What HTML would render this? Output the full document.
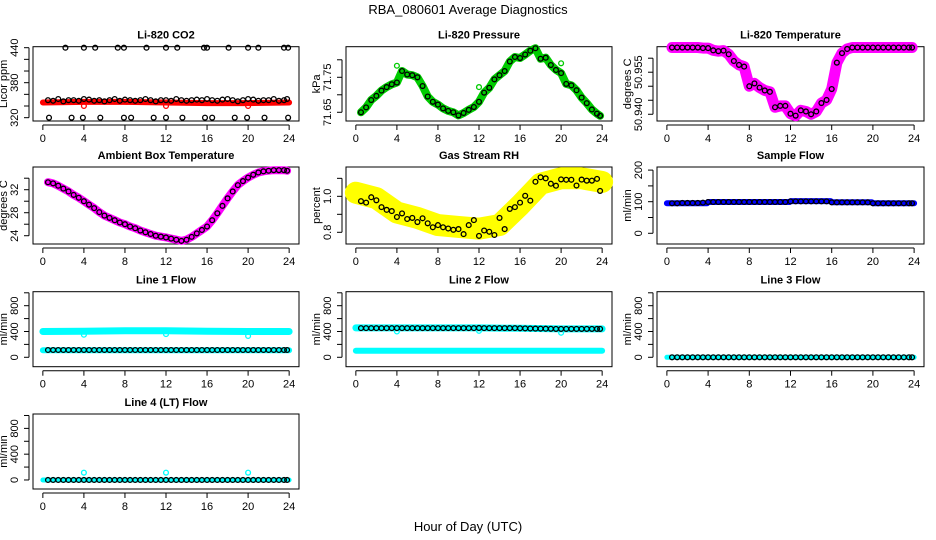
<!DOCTYPE html>
<html><head><meta charset="utf-8">
<style>
html,body{margin:0;padding:0;background:#fff;}
svg{display:block;font-family:"Liberation Sans",Arial,sans-serif;}
</style></head>
<body>
<svg id="c" width="936" height="540" viewBox="0 0 936 540" xmlns="http://www.w3.org/2000/svg">
<rect x="0" y="0" width="936" height="540" fill="#fff"/>
<text x="468" y="14" text-anchor="middle" font-size="13">RBA_080601  Average Diagnostics</text>
<text x="468" y="531" text-anchor="middle" font-size="13">Hour of Day (UTC)</text>
</svg>
<script>
const HOURS=[0.5,1,1.5,2,2.5,3,3.5,4,4.5,5,5.5,6,6.5,7,7.5,8,8.5,9,9.5,10,10.5,11,11.5,12,12.5,13,13.5,14,14.5,15,15.5,16,16.5,17,17.5,18,18.5,19,19.5,20,20.5,21,21.5,22,22.5,23,23.5,23.8];
const X_TICKS=[0,4,8,12,16,20,24];
const BAND_H=[0,4,8,12,16,20,24];
const OUT_H=[4,12,20];

// Li-820 CO2
const CO2_BLACK=[350,349,352,348,350,350,349,352,351,349,350,348,350,352,349,351,350,349,350,352,350,348,350,350,349,352,350,349,350,351,350,352,350,349,351,352,350,348,350,352,351,349,350,350,352,349,350,352];
const CO2_RED=[346,347,347,346,345,345,346];
const CO2_RED_OUT=[340,340,340];
const CO2_HIGH_H=[2.2,4,5.1,7.3,7.9,10.1,12,13.1,15.7,16,18.1,20,21,23.5,23.9];
const CO2_HIGH=[440,440,440,440,440,440,440,440,440,440,440,440,440,440,440];
const CO2_LOW_H=[0.6,2.8,3.9,5.6,7.9,8.6,10.8,12,13.6,15.8,16.5,18.7,19.9,21.6,23.9];
const CO2_LOW=[320,320,320,320,320,320,320,320,320,320,320,320,320,320,320];

// Li-820 Pressure
const PRES_BLACK=[71.650,71.664,71.685,71.697,71.712,71.722,71.730,71.735,71.768,71.758,71.756,71.750,71.725,71.695,71.680,71.672,71.661,71.654,71.650,71.641,71.648,71.657,71.665,71.680,71.706,71.720,71.744,71.756,71.768,71.795,71.808,71.805,71.815,71.826,71.833,71.803,71.806,71.785,71.771,71.762,71.731,71.727,71.713,71.692,71.676,71.658,71.646,71.640];
const PRES_GREEN_OUT=[71.783,71.722,71.790];

// Li-820 Temperature
const LTMP_BLACK=[50.9638,50.9638,50.9638,50.9638,50.9638,50.9638,50.9636,50.9636,50.9628,50.9625,50.9627,50.9614,50.959,50.9576,50.957,50.950,50.951,50.9495,50.9485,50.948,50.9425,50.943,50.943,50.9402,50.9395,50.9414,50.941,50.940,50.941,50.944,50.9451,50.949,50.9584,50.9618,50.9633,50.9638,50.9638,50.9638,50.9638,50.9638,50.9638,50.9638,50.9638,50.9638,50.9638,50.9638,50.9638,50.9638];

// Ambient Box Temperature
const AMB_BLACK=[33.3,33.1,32.7,32.2,31.7,31.1,30.6,30.0,29.4,28.8,28.1,27.5,27.1,26.7,26.3,26.0,25.6,25.3,24.9,24.6,24.3,24.0,23.85,23.7,23.5,23.3,23.1,23.3,23.8,24.4,25.0,25.6,26.7,27.9,29.2,30.5,31.7,32.8,33.5,34.1,34.6,35.0,35.2,35.3,35.4,35.4,35.4,35.3];

// Gas Stream RH
const RH_BLACK=[0.973,0.965,0.995,0.978,0.94,0.925,0.918,0.885,0.905,0.874,0.88,0.857,0.878,0.85,0.828,0.84,0.828,0.821,0.814,0.818,0.79,0.84,0.868,0.78,0.81,0.803,0.785,0.88,0.818,0.93,0.94,0.965,1.003,0.976,1.081,1.106,1.10,1.07,1.059,1.094,1.092,1.092,1.06,1.093,1.087,1.087,1.097,1.03];
const RH_YEL_H=[0,2,4,6,8,10,12,14,16,18,20,22,24];
const RH_YELLOW=[1.02,0.99,0.91,0.88,0.84,0.83,0.82,0.84,0.95,1.07,1.10,1.10,1.08];

// Sample Flow
const SF_BLACK=[95,95,96,96,96,96,97,99,99,99,99,99,99,99,99,99,99,99,99,99,99,99,99,101,101,101,101,101,101,101,101,98,98,98,98,98,98,98,98,95,95,95,95,95,95,95,95,95];
const SF_BLUE_H=[0,3.9,4,11.9,12,15.9,16,19.9,20,24];
const SF_BLUE=[95,95,99,99,102,102,98,98,95,95];

// Line flows
const L1_BLACK=[113,113,113,113,113,113,113,113,113,113,113,113,113,113,113,113,113,113,113,113,113,113,113,113,113,113,113,113,113,113,113,113,113,113,113,113,113,113,113,113,113,113,113,113,113,113,113,113];
const L1_CYAN_HI=[400,405,410,410,405,400,400];
const L1_CYAN_LO=[110,110,110,110,110,110,110];
const L1_OUT=[350,360,330];
const L2_BLACK=[452,452,452,452,452,452,452,452,452,452,452,452,452,452,452,452,452,452,452,452,452,452,452,455,452,452,452,452,452,452,452,450,448,446,445,444,443,442,440,440,440,440,440,440,440,440,440,440];
const L2_CYAN_HI=[455,455,455,455,450,440,440];
const L2_CYAN_LO=[100,100,100,100,100,100,100];
const L2_OUT=[400,410,380];
const L3_BLACK=[0,0,0,0,0,0,0,0,0,0,0,0,0,0,0,0,0,0,0,0,0,0,0,0,0,0,0,0,0,0,0,0,0,0,0,0,0,0,0,0,0,0,0,0,0,0,0,0];
const L3_CYAN=[0,0,0,0,0,0,0];
const L4_BLACK=[0,0,0,0,0,0,0,0,0,0,0,0,0,0,0,0,0,0,0,0,0,0,0,0,0,0,0,0,0,0,0,0,0,0,0,0,0,0,0,0,0,0,0,0,0,0,0,0];
const L4_CYAN=[0,0,0,0,0,0,0];
const L4_OUT=[113,113,113];

const FLOW_TICKS=[0,200,400,600,800,1000];
const FLOW_LABELS=["0","","400","","800",""];

const NS="http://www.w3.org/2000/svg";
const svg=document.getElementById('c');
function mk(tag,attrs,parent){const e=document.createElementNS(NS,tag);for(const k in attrs)e.setAttribute(k,attrs[k]);(parent||svg).appendChild(e);return e;}

const COLS=[[33,299],[346,612],[657,924]];
const ROWS=[[46.7,121],[167,244],[291.7,366.7],[414,489]];

function panel(o){
  const g=mk('g',{});
  
  
  const [x0,x1]=COLS[o.col],[y0,y1]=ROWS[o.row];
  const xs=h=>x0+(h+0.96)/25.92*(x1-x0);
  const ys=v=>y1-(v-o.dom[0])/(o.dom[1]-o.dom[0])*(y1-y0);
  const t=mk('text',{x:(x0+x1)/2,y:y0-8,'text-anchor':'middle','font-size':11,'font-weight':'bold'},g);
  t.textContent=o.title;
  
  
  const b=mk('rect',{x:x0,y:y0,width:x1-x0,height:y1-y0,fill:'none',stroke:'#000','stroke-width':1},g);
  
  
  const xa=mk('g',{},g);
  
  
  mk('line',{x1:xs(X_TICKS[0]),x2:xs(X_TICKS[X_TICKS.length-1]),y1:y1+4,y2:y1+4,stroke:'#000'},xa);
  X_TICKS.forEach(v=>{
    mk('line',{x1:xs(v),x2:xs(v),y1:y1+4,y2:y1+9,stroke:'#000'},xa);
    const l=mk('text',{x:xs(v),y:y1+21,'text-anchor':'middle','font-size':11},xa);
    l.textContent=String(v);
    
    
  });
  const ya=mk('g',{},g);
  
  
  mk('line',{x1:x0-4,x2:x0-4,y1:ys(o.yticks[0]),y2:ys(o.yticks[o.yticks.length-1]),stroke:'#000'},ya);
  o.yticks.forEach((v,i)=>{
    mk('line',{x1:x0-9,x2:x0-4,y1:ys(v),y2:ys(v),stroke:'#000'},ya);
    if(o.ylabels[i]){
      const cx=x0-15,cy=ys(v);
      const l=mk('text',{x:cx,y:cy,'text-anchor':'middle','font-size':11,transform:`rotate(-90 ${cx} ${cy})`},ya);
      l.textContent=o.ylabels[i];
      
      
    }
  });
  const yl=mk('text',{x:x0-26,y:(y0+y1)/2,'text-anchor':'middle','font-size':11,transform:`rotate(-90 ${x0-26} ${(y0+y1)/2})`},g);
  yl.textContent=o.ylab;
  
  
  o.series.forEach(s=>{
    const sg=mk('g',{},g);
    
    
    if(s.band){
      const pts=s.h.map((h,i)=>xs(h).toFixed(1)+','+ys(s.v[i]).toFixed(1)).join(' ');
      mk('polyline',{points:pts,fill:'none',stroke:s.color,'stroke-width':s.band,'stroke-linejoin':'round','stroke-linecap':'round'},sg);
    }
    if(s.pts!==false){
      s.h.forEach((h,i)=>{
        const c=mk('circle',{cx:xs(h),cy:ys(s.v[i]),r:2.4,fill:'none',stroke:s.color,'stroke-width':1.3},sg);
        
        
      });
    }
  });
}

panel({name:'panel-li820-co2',col:0,row:0,title:'Li-820 CO2',ylab:'Licor ppm',dom:[314.3,441.7],
  yticks:[320,340,360,380,400,420,440],ylabels:['320','','','380','','','440'],
  series:[{name:'co2-red-series',h:BAND_H,v:CO2_RED,color:'#f00',band:6,pts:false},
          {name:'co2-red-outliers',h:OUT_H,v:CO2_RED_OUT,color:'#f00'},
          {name:'co2-black-series',h:HOURS,v:CO2_BLACK,color:'#000'},
          {name:'co2-high-points',h:CO2_HIGH_H,v:CO2_HIGH,color:'#000'},
          {name:'co2-low-points',h:CO2_LOW_H,v:CO2_LOW,color:'#000'}]});
panel({name:'panel-li820-pressure',col:1,row:0,title:'Li-820 Pressure',ylab:'kPa',dom:[71.6251,71.8374],
  yticks:[71.65,71.70,71.75,71.80],ylabels:['71.65','','71.75',''],
  series:[{name:'pressure-green-series',h:HOURS,v:PRES_BLACK,color:'#0c0',band:8},
          {name:'pressure-green-outliers',h:OUT_H,v:PRES_GREEN_OUT,color:'#0c0'},
          {name:'pressure-black-series',h:HOURS,v:PRES_BLACK,color:'#000'}]});
panel({name:'panel-li820-temperature',col:2,row:0,title:'Li-820 Temperature',ylab:'degrees C',dom:[50.9376,50.9641],
  yticks:[50.940,50.945,50.950,50.955,50.960],ylabels:['50.940','','','50.955',''],
  series:[{name:'licor-temp-magenta-series',h:HOURS,v:LTMP_BLACK,color:'#f0f',band:11},
          {name:'licor-temp-black-series',h:HOURS,v:LTMP_BLACK,color:'#000'}]});
panel({name:'panel-ambient-box-temperature',col:0,row:1,title:'Ambient Box Temperature',ylab:'degrees C',dom:[22.56,35.95],
  yticks:[24,26,28,30,32,34],ylabels:['24','','28','','32',''],
  series:[{name:'ambient-magenta-series',h:HOURS,v:AMB_BLACK,color:'#f0f',band:8},
          {name:'ambient-black-series',h:HOURS,v:AMB_BLACK,color:'#000'}]});
panel({name:'panel-gas-stream-rh',col:1,row:1,title:'Gas Stream RH',ylab:'percent',dom:[0.735,1.163],
  yticks:[0.8,0.9,1.0,1.1],ylabels:['0.8','','1.0',''],
  series:[{name:'rh-yellow-series',h:RH_YEL_H,v:RH_YELLOW,color:'#ff0',band:22,pts:false},
          {name:'rh-black-series',h:HOURS,v:RH_BLACK,color:'#000'}]});
panel({name:'panel-sample-flow',col:2,row:1,title:'Sample Flow',ylab:'ml/min',dom:[-33.9,209.8],
  yticks:[0,50,100,150,200],ylabels:['0','','100','','200'],
  series:[{name:'sample-blue-series',h:SF_BLUE_H,v:SF_BLUE,color:'#00f',band:6,pts:false},
          {name:'sample-black-series',h:HOURS,v:SF_BLACK,color:'#000'}]});
panel({name:'panel-line1-flow',col:0,row:2,title:'Line 1 Flow',ylab:'ml/min',dom:[-146,1017],
  yticks:FLOW_TICKS,ylabels:FLOW_LABELS,
  series:[{name:'line1-cyan-high',h:BAND_H,v:L1_CYAN_HI,color:'#0ff',band:7,pts:false},
          {name:'line1-cyan-low',h:BAND_H,v:L1_CYAN_LO,color:'#0ff',band:6,pts:false},
          {name:'line1-cyan-outliers',h:OUT_H,v:L1_OUT,color:'#0ff'},
          {name:'line1-black-series',h:HOURS,v:L1_BLACK,color:'#000'}]});
panel({name:'panel-line2-flow',col:1,row:2,title:'Line 2 Flow',ylab:'ml/min',dom:[-146,1017],
  yticks:FLOW_TICKS,ylabels:FLOW_LABELS,
  series:[{name:'line2-cyan-high',h:BAND_H,v:L2_CYAN_HI,color:'#0ff',band:7,pts:false},
          {name:'line2-cyan-low',h:BAND_H,v:L2_CYAN_LO,color:'#0ff',band:6,pts:false},
          {name:'line2-cyan-outliers',h:OUT_H,v:L2_OUT,color:'#0ff'},
          {name:'line2-black-series',h:HOURS,v:L2_BLACK,color:'#000'}]});
panel({name:'panel-line3-flow',col:2,row:2,title:'Line 3 Flow',ylab:'ml/min',dom:[-146,1017],
  yticks:FLOW_TICKS,ylabels:FLOW_LABELS,
  series:[{name:'line3-cyan-series',h:BAND_H,v:L3_CYAN,color:'#0ff',band:5,pts:false},
          {name:'line3-black-series',h:HOURS,v:L3_BLACK,color:'#000'}]});
panel({name:'panel-line4-flow',col:0,row:3,title:'Line 4 (LT) Flow',ylab:'ml/min',dom:[-140,1023],
  yticks:FLOW_TICKS,ylabels:FLOW_LABELS,
  series:[{name:'line4-cyan-series',h:BAND_H,v:L4_CYAN,color:'#0ff',band:5,pts:false},
          {name:'line4-cyan-outliers',h:OUT_H,v:L4_OUT,color:'#0ff'},
          {name:'line4-black-series',h:HOURS,v:L4_BLACK,color:'#000'}]});
</script>
</body></html>
